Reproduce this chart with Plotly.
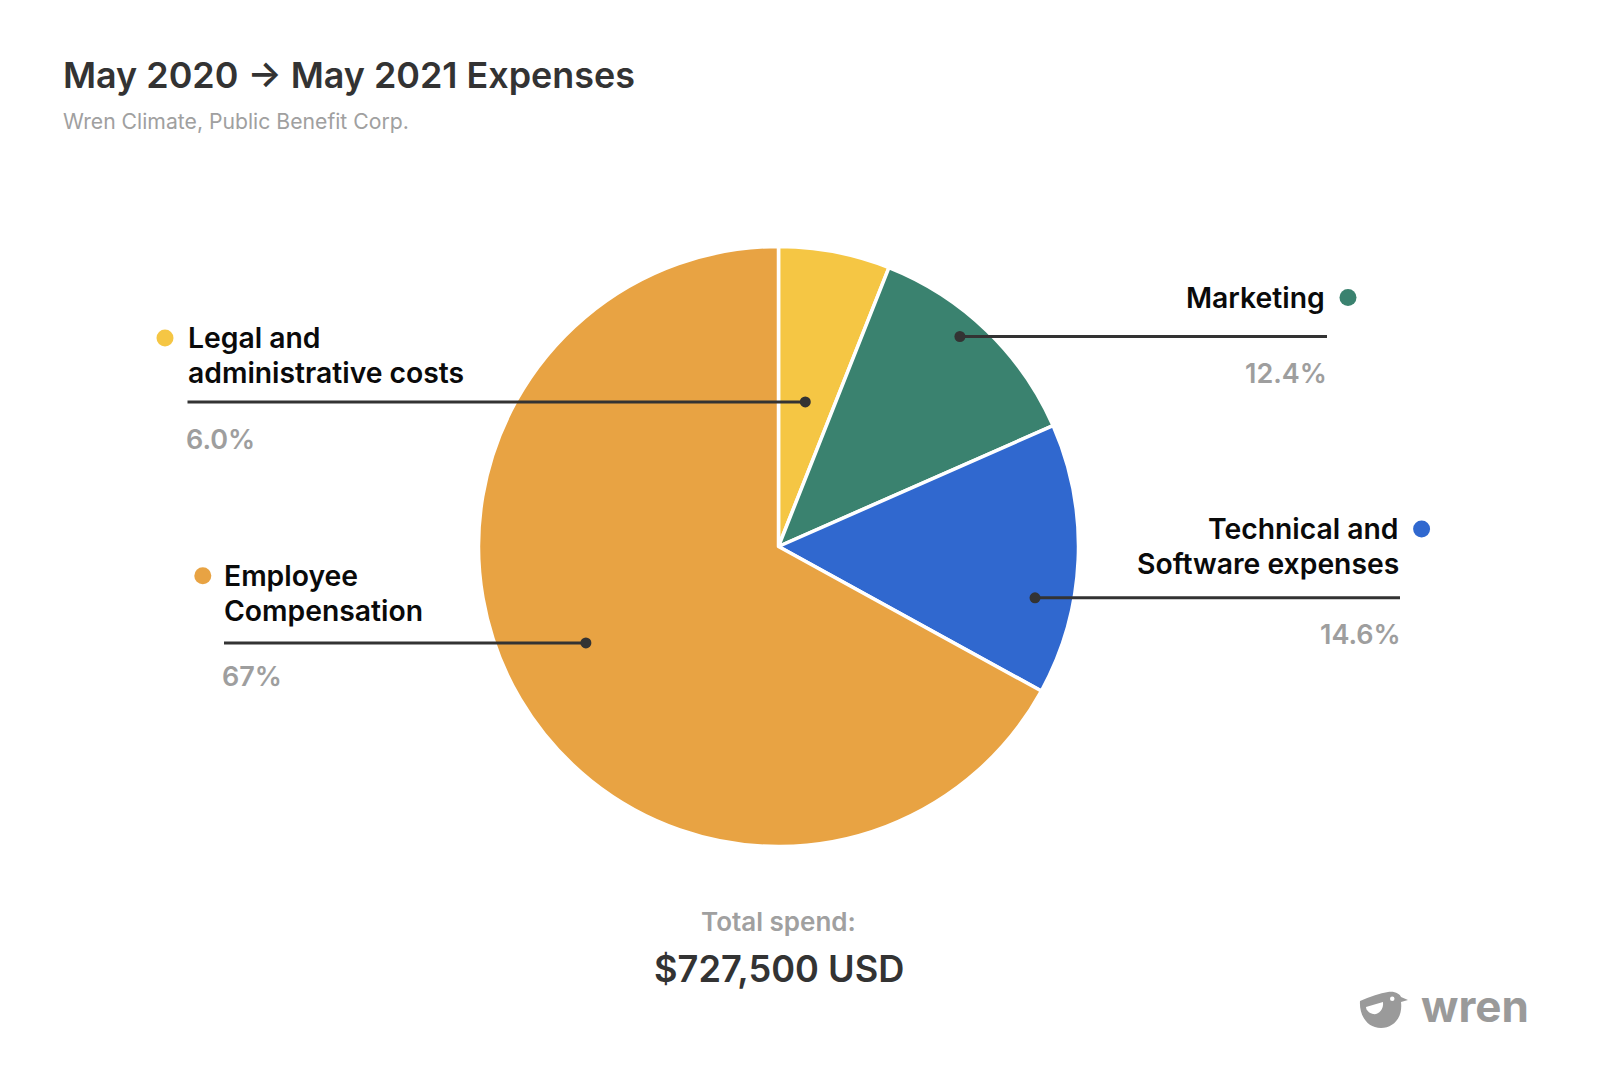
import math
import plotly.graph_objects as go

# ---------------- data ----------------
categories = ["Legal and administrative costs", "Marketing",
              "Technical and Software expenses", "Employee Compensation"]
label_lines = ["Legal and<br>administrative costs", "Marketing",
               "Technical and<br>Software expenses", "Employee<br>Compensation"]
shares = [6.0, 12.4, 14.6, 67.0]
share_labels = ["6.0%", "12.4%", "14.6%", "67%"]
title_text = "May 2020 → May 2021 Expenses"
subtitle_text = "Wren Climate, Public Benefit Corp."
total_caption = "Total spend:"
total_value = "$727,500 USD"
brand = "wren"

# ---------------- style / layout ----------------
colors = ["#F5C644", "#3A826F", "#3068CF", "#E8A343"]
W, H = 1598, 1090
CX, CY, R = 778.5, 546.5, 300
FONT = "Inter"
LINE_GAP = 34.8

# label placement (pixels) and leader anchor (radial fraction, angle offset)
cfg = [
    dict(side="left", tx=186, ty=338, dx=165, dy=338, lend=187.5, py=439, frac=0.49, off=-0.3),
    dict(side="right", tx=1327, ty=297.6, dx=1348, dy=297.6, lend=1327, py=373, frac=0.925, off=-3.1),
    dict(side="right", tx=1401, ty=529, dx=1421.6, dy=529, lend=1400, py=634, frac=0.872, off=8.8),
    dict(side="left", tx=222, ty=575.8, dx=202.8, dy=575.8, lend=224, py=676.7, frac=0.718, off=4.0),
]


def px(x):
    return x / W


def py(y):
    return 1 - y / H


fig = go.Figure()
fig.add_trace(go.Pie(
    values=shares, labels=categories, sort=False, direction="clockwise", rotation=0,
    marker=dict(colors=colors, line=dict(color="white", width=3.5)),
    textinfo="none", hoverinfo="label+percent", showlegend=False,
    domain=dict(x=[px(CX - R), px(CX + R)], y=[py(CY + R), py(CY - R)]),
))

shapes = []
annotations = []

total = sum(shares)
cum = 0.0
for i, s in enumerate(shares):
    mid = (cum + s / 2) / total * 360
    cum += s
    c = cfg[i]
    ang = math.radians(mid + c["off"])
    ax = CX + c["frac"] * R * math.sin(ang)
    ay = CY - c["frac"] * R * math.cos(ang)
    # leader line
    shapes.append(dict(type="line", xref="paper", yref="paper",
                       x0=px(ax), y0=py(ay), x1=px(c["lend"]), y1=py(ay),
                       line=dict(color="#333333", width=3), layer="above"))
    rd = 5.5
    shapes.append(dict(type="circle", xref="paper", yref="paper",
                       x0=px(ax - rd), x1=px(ax + rd), y0=py(ay - rd), y1=py(ay + rd),
                       fillcolor="#333333", line=dict(width=0), layer="above"))
    # legend dot
    rl = 8.5
    shapes.append(dict(type="circle", xref="paper", yref="paper",
                       x0=px(c["dx"] - rl), x1=px(c["dx"] + rl),
                       y0=py(c["dy"] - rl), y1=py(c["dy"] + rl),
                       fillcolor=colors[i], line=dict(width=0), layer="above"))
    anchor = "left" if c["side"] == "left" else "right"
    for j, ln in enumerate(label_lines[i].split("<br>")):
        annotations.append(dict(text=ln, x=px(c["tx"]), y=py(c["ty"] + j * LINE_GAP),
                                xanchor=anchor, yanchor="middle",
                                font=dict(family=FONT, size=28.3, weight=600, color="#0a0a0a")))
    annotations.append(dict(text=share_labels[i],
                            x=px(c["tx"] - 2 if anchor == "left" else c["tx"] + 2),
                            y=py(c["py"]), xanchor=anchor, yanchor="middle",
                            font=dict(family=FONT, size=27, weight=600, color="#9e9e9e")))

# titles and totals
annotations += [
    dict(text=title_text, x=px(61), y=py(75), xanchor="left", yanchor="middle",
         font=dict(family=FONT, size=35.9, weight=600, color="#333333")),
    dict(text=subtitle_text, x=px(61), y=py(121), xanchor="left", yanchor="middle",
         font=dict(family=FONT, size=21.2, weight=400, color="#a0a0a0")),
    dict(text=total_caption, x=px(CX), y=py(921), xanchor="center", yanchor="middle",
         font=dict(family=FONT, size=26, weight=600, color="#a0a0a0")),
    dict(text=total_value, x=px(CX), y=py(969), xanchor="center", yanchor="middle",
         font=dict(family=FONT, size=36.2, weight=600, color="#333333")),
    dict(text=brand, x=px(1419), y=py(1006), xanchor="left", yanchor="middle",
         font=dict(family=FONT, size=44, weight=700, color="#9a9a9a")),
]
for a in annotations:
    a.setdefault("xref", "paper")
    a.setdefault("yref", "paper")
    a.setdefault("showarrow", False)


# wren bird logo (pixel path converted to paper coords)
def pth(points_cmds):
    out = []
    for tok in points_cmds:
        if isinstance(tok, str):
            out.append(tok)
        else:
            out.append(f"{px(tok[0]):.5f},{py(tok[1]):.5f}")
    return " ".join(out)


bird = pth(["M", (1360, 1001), "Q", (1376, 994), (1388, 992),
            "C", (1395, 991), (1400, 994), (1401, 997),
            "L", (1408, 1000), "L", (1401, 1002),
            "C", (1403, 1018), (1393, 1028), (1381, 1028),
            "C", (1367, 1028), (1359, 1015), (1360, 1001), "Z"])
wing = pth(["M", (1366, 1007), "L", (1383, 1002),
            "C", (1384, 1010), (1378, 1015), (1373, 1014),
            "C", (1369, 1013), (1366, 1010), (1366, 1007), "Z"])
shapes.append(dict(type="path", xref="paper", yref="paper", path=bird,
                   fillcolor="#9a9a9a", line=dict(width=0), layer="above"))
shapes.append(dict(type="path", xref="paper", yref="paper", path=wing,
                   fillcolor="white", line=dict(width=0), layer="above"))
shapes.append(dict(type="circle", xref="paper", yref="paper",
                   x0=px(1390), x1=px(1394.5), y0=py(996.5), y1=py(1001),
                   fillcolor="white", line=dict(width=0), layer="above"))

fig.update_layout(
    width=W, height=H, margin=dict(l=0, r=0, t=0, b=0),
    paper_bgcolor="white", plot_bgcolor="white",
    shapes=shapes, annotations=annotations, showlegend=False,
)
fig.write_html("out.html")
